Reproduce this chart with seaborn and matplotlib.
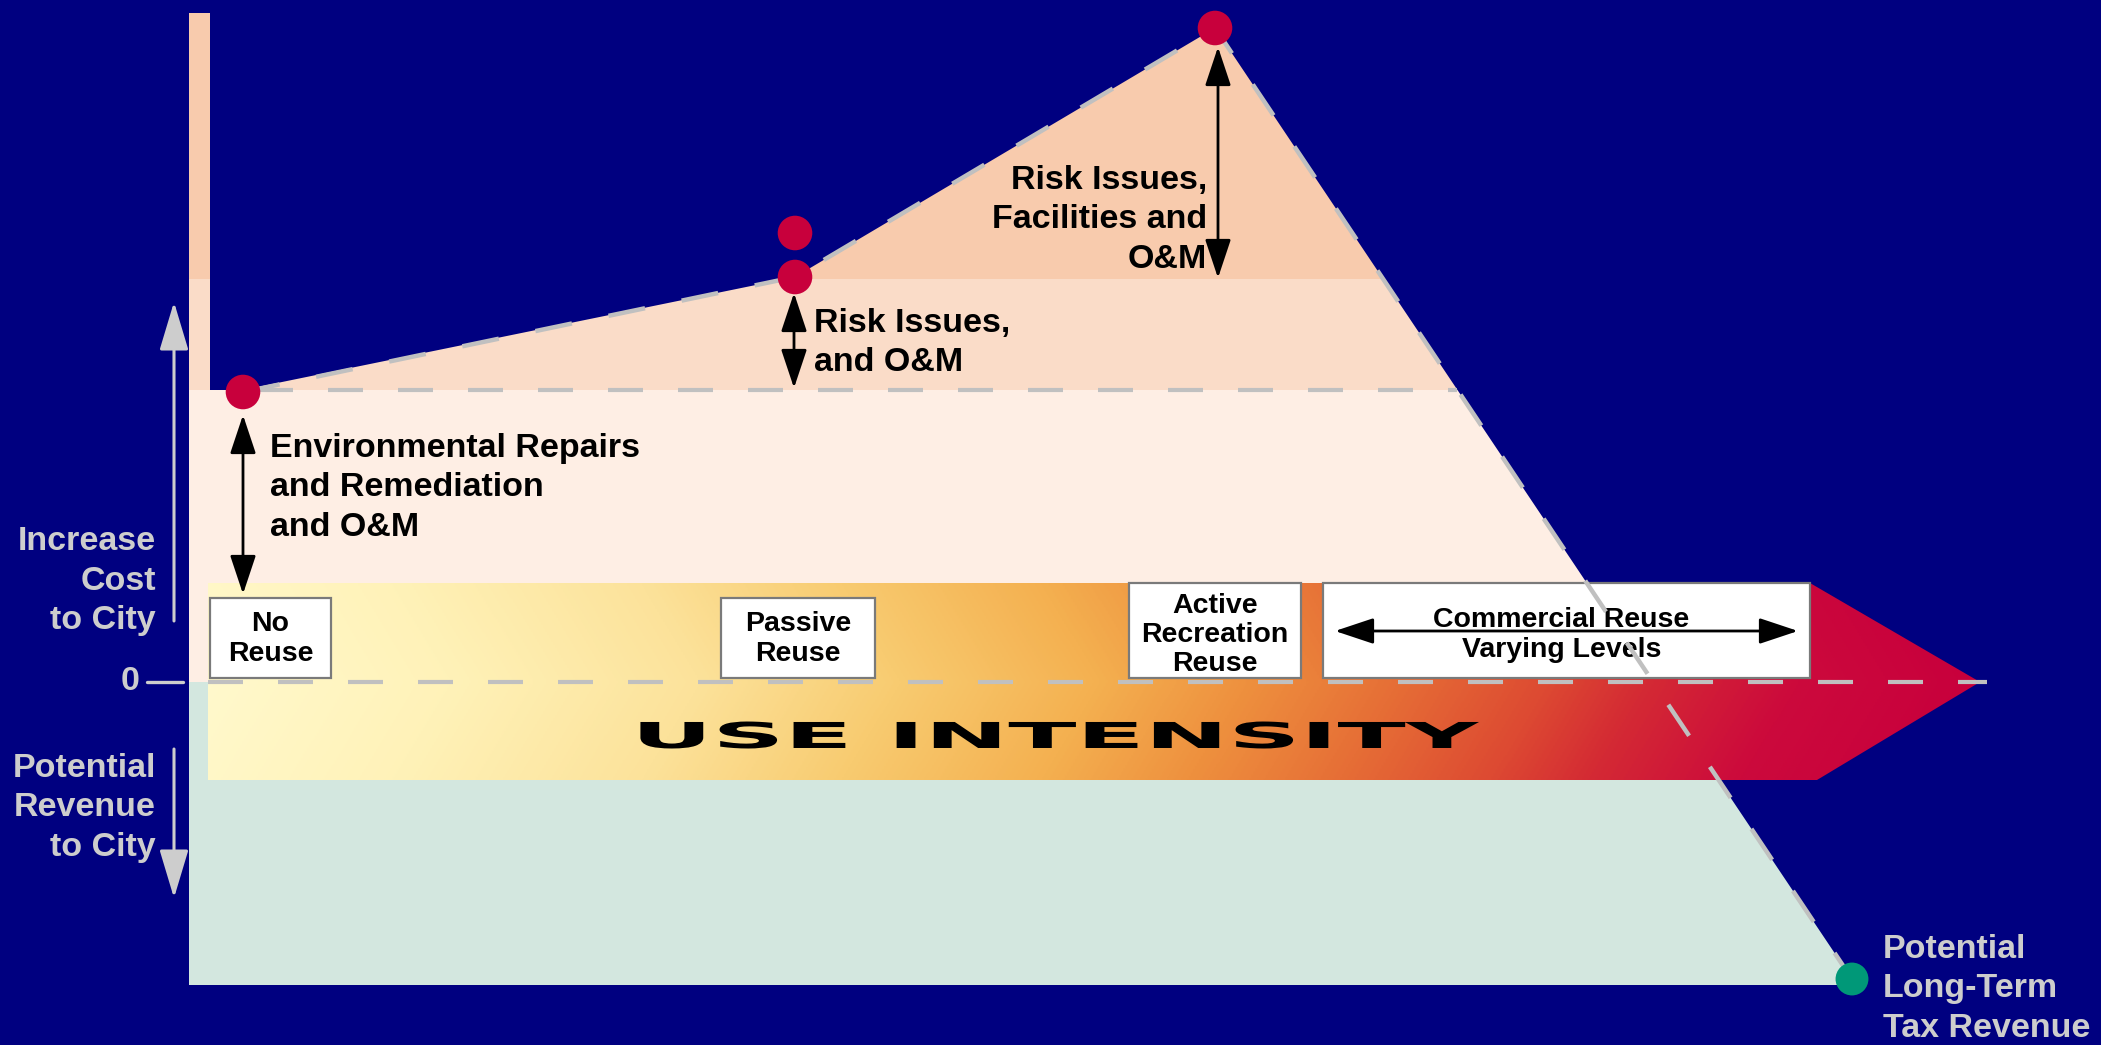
import numpy as np
import matplotlib
matplotlib.use('Agg')
import matplotlib.pyplot as plt
import seaborn as sns
from matplotlib.patches import Polygon, Rectangle
from matplotlib.colors import LinearSegmentedColormap, to_rgb
from matplotlib.patheffects import AbstractPathEffect
from matplotlib.transforms import Affine2D

# x = use intensity (pixel-like units), y = cost to city (0 = break-even)
stage_x = [243, 795, 1215, 1852]
stage_cost = [290, 405, 654, -297]
extra_dot_x = [795]
extra_dot_cost = [449]

band_edges = [-303, 0, 292, 403, 700]
band_colors = ['#D3E7DF', '#FEEEE4', '#FADCC8', '#F8CBAD']
strip_top = 669

box_labels = ['No\nReuse', 'Passive\nReuse', 'Active\nRecreation\nReuse', 'Commercial Reuse\nVarying Levels']
box_left = [210, 721, 1129, 1323]
box_right = [331, 875, 1301, 1810]
box_top = [84, 84, 99, 99]
box_text_y = [43, 43, 47, 47]
box_spacing = [1.16, 1.16, 1.16, 1.22]

grad_x = [208, 450, 700, 900, 1100, 1250, 1400, 1550, 1650, 1800, 1980]
grad_colors = ['#FFF9CC', '#FFF2B8', '#FCE29A', '#F8CB70', '#F4B050', '#EE903E',
               '#E66E36', '#DD4A32', '#D42A34', '#CC0A3C', '#C8003C']

NAVY = '#000080'
GRAY = '#CDCDCD'
DASH = '#C0C0C0'
RED = '#C8003C'
GREEN = '#009878'

sns.set_style('white')
plt.rcParams['font.family'] = ['Liberation Sans', 'DejaVu Sans']


class Stretch(AbstractPathEffect):
    """Widen glyphs horizontally about a data x position."""
    def __init__(self, ax, x, sx):
        super().__init__()
        self.ax, self.x, self.sx = ax, x, sx

    def draw_path(self, renderer, gc, tpath, affine, rgbFace=None):
        cx = self.ax.transData.transform((self.x, 0))[0]
        a = affine + Affine2D().translate(-cx, 0).scale(self.sx, 1).translate(cx, 0)
        renderer.draw_path(gc, tpath, a, rgbFace)


fig = plt.figure(figsize=(21.01, 10.45), dpi=100, facecolor=NAVY)
ax = fig.add_axes([0, 0, 1, 1])
ax.set_facecolor(NAVY)

# area under the cost curve, split in horizontal bands
area = Polygon([(208, band_edges[0]), (208, band_edges[2]), (stage_x[0], band_edges[2])]
               + list(zip(stage_x[1:], stage_cost[1:])) + [(stage_x[-1], band_edges[0])],
               closed=True, transform=ax.transData, facecolor='none', edgecolor='none')
for lo, hi, c in zip(band_edges[:-1], band_edges[1:], band_colors):
    r = ax.axhspan(lo, hi, color=c, lw=0, zorder=1)
    r.set_clip_path(area)

# left strip
strip_tops = band_edges[1:-1] + [strip_top]
ax.bar([199.5] * 4, np.diff([band_edges[0]] + strip_tops), bottom=[band_edges[0]] + strip_tops[:-1],
       width=21, color=band_colors, lw=0, zorder=1)

# use intensity arrow with gradient
arrow = Polygon([(208, 99), (1810, 99), (1980, 0), (1817, -98), (208, -98)],
                closed=True, transform=ax.transData, facecolor='none', edgecolor='none')
cmap = LinearSegmentedColormap.from_list(
    'use', [((gx - grad_x[0]) / (grad_x[-1] - grad_x[0]), to_rgb(c)) for gx, c in zip(grad_x, grad_colors)])
gx = np.linspace(208, 1980, 900)
gy = np.linspace(-98, 99, 120)
X, Y = np.meshgrid(gx, gy)
V = np.clip((X + 0.6 * np.abs(Y) - 208) / (1980 - 208), 0, 1)
im = ax.imshow(cmap(V), extent=[208, 1980, -98, 99], origin='lower', aspect='auto',
               interpolation='bilinear', zorder=2)
im.set_clip_path(arrow)

dash = (0, (8.4, 8.4))
ax.plot([208, 1987], [0, 0], color=DASH, lw=3, linestyle=dash, zorder=3)
ax.plot([258, 1457], [band_edges[2], band_edges[2]], color=DASH, lw=3, linestyle=dash, zorder=3)

# boxes
for lab, l, r, t, ty, ls in zip(box_labels, box_left, box_right, box_top, box_text_y, box_spacing):
    ax.add_patch(Rectangle((l, 4), r - l, t - 4, facecolor='white', edgecolor='#7A7A7A', lw=1.6, zorder=4))
    ax.text((l + r) / 2 - (5 if r == 1810 else 0), ty, lab, ha='center', va='center', ma='center',
            fontsize=20.5, fontweight='bold', color='black', linespacing=ls, zorder=5)

ax.annotate('', xy=(1335, 51), xytext=(1798, 51),
            arrowprops=dict(arrowstyle='<|-|>,head_length=1.2,head_width=0.4', color='black', lw=2,
                            mutation_scale=20, shrinkA=0, shrinkB=0), zorder=5)

# cost curve
sns.lineplot(x=stage_x, y=stage_cost, sort=False, color=DASH, lw=3.2, linestyle=dash, ax=ax, zorder=6)
sns.scatterplot(x=stage_x[:3] + extra_dot_x, y=stage_cost[:3] + extra_dot_cost, s=620,
                color=RED, edgecolor='none', ax=ax, zorder=8)
sns.scatterplot(x=stage_x[3:], y=stage_cost[3:], s=560, color=GREEN, edgecolor='none', ax=ax, zorder=8)

# USE INTENSITY
ax.text(1053, -56, 'USE INTENSITY', ha='center', va='center', fontsize=25.7, fontweight='bold',
        family='DejaVu Sans', color='black', zorder=5, path_effects=[Stretch(ax, 1053, 2.8)])

# cost component arrows and notes
black_arrow = dict(arrowstyle='<|-|>,head_length=1.2,head_width=0.4', color='black', lw=2,
                   mutation_scale=20, shrinkA=0, shrinkB=0)
ax.annotate('', xy=(243, 267), xytext=(243, 88), arrowprops=black_arrow, zorder=7)
ax.annotate('', xy=(794, 389), xytext=(794, 294), arrowprops=black_arrow, zorder=7)
ax.annotate('', xy=(1218, 635), xytext=(1218, 404), arrowprops=black_arrow, zorder=7)

ax.text(270, 194, 'Environmental Repairs\nand Remediation\nand O&M', ha='left', va='center',
        fontsize=24.5, fontweight='bold', color='black', linespacing=1.35, zorder=7)
ax.text(814, 339, 'Risk Issues,\nand O&M', ha='left', va='center',
        fontsize=24.5, fontweight='bold', color='black', linespacing=1.35, zorder=7)
ax.text(1207, 462, 'Risk Issues,\nFacilities and\nO&M', ha='right', va='center', ma='right',
        fontsize=24.5, fontweight='bold', color='black', linespacing=1.35, zorder=7)

# left axis
gray_arrow = dict(arrowstyle='-|>,head_length=1.5,head_width=0.45', color=GRAY, lw=2.2,
                  mutation_scale=20, shrinkA=0, shrinkB=0)
ax.annotate('', xy=(174, 380), xytext=(174, 61), arrowprops=gray_arrow)
ax.annotate('', xy=(174, -216), xytext=(174, -67), arrowprops=gray_arrow)
ax.plot([147, 183], [0, 0], color=GRAY, lw=2.4)
ax.text(130, 0, '0', ha='center', va='center', fontsize=24.5, fontweight='bold', color=GRAY)
ax.text(156, 101, 'Increase\nCost\nto City', ha='right', va='center', ma='right',
        fontsize=24.5, fontweight='bold', color=GRAY, linespacing=1.34)
ax.text(156, -126, 'Potential\nRevenue\nto City', ha='right', va='center', ma='right',
        fontsize=24.5, fontweight='bold', color=GRAY, linespacing=1.34)
ax.text(1883, -307, 'Potential\nLong-Term\nTax Revenue', ha='left', va='center',
        fontsize=24.5, fontweight='bold', color=GRAY, linespacing=1.34)

ax.set_xlim(0, 2101)
ax.set_ylim(682 - 1045, 682)
ax.axis('off')
fig.savefig('out.png', dpi=100, facecolor=NAVY)
